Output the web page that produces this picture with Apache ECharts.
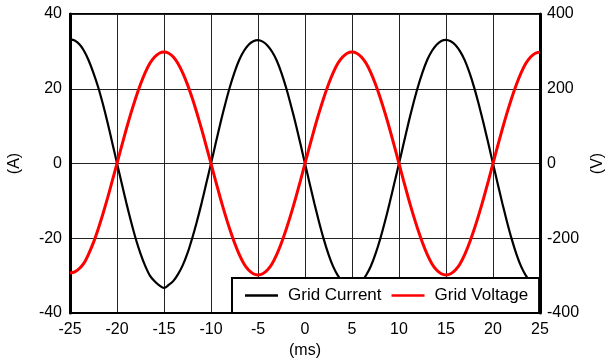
<!DOCTYPE html>
<html>
<head>
<meta charset="utf-8">
<script src="https://cdn.jsdelivr.net/npm/echarts@6/dist/echarts.min.js"></script>
<style>html,body{margin:0;padding:0;background:#fff;}#c{width:613px;height:358px;}</style>
</head>
<body>
<div id="c"></div>
<script>
var timeMs = [-25,-24.5,-24,-23.5,-23,-22.5,-22,-21.5,-21,-20.5,-20,-19.5,-19,-18.5,-18,-17.5,-17,-16.5,-16,-15.5,-15,-14.5,-14,-13.5,-13,-12.5,-12,-11.5,-11,-10.5,-10,-9.5,-9,-8.5,-8,-7.5,-7,-6.5,-6,-5.5,-5,-4.5,-4,-3.5,-3,-2.5,-2,-1.5,-1,-0.5,0,0.5,1,1.5,2,2.5,3,3.5,4,4.5,5,5.5,6,6.5,7,7.5,8,8.5,9,9.5,10,10.5,11,11.5,12,12.5,13,13.5,14,14.5,15,15.5,16,16.5,17,17.5,18,18.5,19,19.5,20,20.5,21,21.5,22,22.5,23,23.5,24,24.5,25];
var gridCurrent = [33.2,32.9,31.9,30.1,27.5,24.2,20.4,15.9,10.9,5.5,0.1,-5.3,-10.6,-15.6,-20.2,-24.1,-27.4,-30.0,-31.5,-32.6,-33.3,-32.5,-31.4,-29.6,-27.2,-24.0,-20.0,-15.5,-10.6,-5.3,0.0,5.4,10.8,15.8,20.4,24.4,27.7,30.1,31.8,32.7,33.0,32.6,31.6,29.9,27.5,24.2,20.2,15.6,10.7,5.4,0.0,-5.4,-10.7,-15.7,-20.3,-24.3,-27.6,-30.0,-31.7,-32.7,-33.1,-32.6,-31.6,-29.9,-27.5,-24.2,-20.2,-15.6,-10.6,-5.3,0.0,5.4,10.8,15.8,20.4,24.4,27.7,30.1,31.8,32.8,33.1,32.7,31.7,30.0,27.6,24.3,20.3,15.7,10.7,5.4,0.0,-5.4,-10.7,-15.7,-20.3,-24.3,-27.6,-30.0,-31.7,-32.7,-33.0];
var gridVoltage = [-293,-290,-281,-266,-241,-211,-175,-135,-92,-46,0,47,93,136,176,212,243,268,285,295,298,295,285,267,242,211,175,135,92,46,0,-47,-93,-136,-176,-212,-243,-268,-285,-295,-298,-295,-285,-268,-243,-212,-176,-136,-93,-47,0,47,93,136,176,212,243,268,285,295,298,295,285,268,243,212,176,136,93,47,0,-47,-93,-136,-176,-212,-243,-268,-285,-295,-298,-295,-285,-268,-243,-212,-176,-136,-93,-47,0,47,93,136,176,212,243,268,285,295,298];
var seriesNames = ['Grid Current', 'Grid Voltage'];
var xName = '(ms)', leftName = '(A)', rightName = '(V)';

function pairs(xs, ys){ return xs.map(function(x,i){ return [x, ys[i]]; }); }

var font = 'Liberation Sans, Arial, sans-serif';
var chart = echarts.init(document.getElementById('c'), null, {renderer:'canvas'});
chart.setOption({
  animation: false,
  backgroundColor: '#fff',
  grid: {left: 70, right: 73, top: 14, bottom: 45, show: true, borderColor: '#000', borderWidth: 2, backgroundColor: 'transparent', outerBoundsMode: 'none', containLabel: false},
  legend: {
    left: 232, top: 278,
    data: seriesNames.map(function(n){ return {name: n, icon: 'rect'}; }),
    padding: [9, 11, 9, 13],
    itemGap: 10,
    itemWidth: 33, itemHeight: 2.5,
    backgroundColor: '#fff', borderColor: '#000', borderWidth: 2, borderRadius: 0,
    textStyle: {fontFamily: font, fontSize: 17, color: '#000', padding: [0,0,0,5]}
  },
  xAxis: {
    type: 'value', min: -25, max: 25, interval: 5,
    name: xName, nameLocation: 'middle', nameGap: 29,
    nameTextStyle: {fontFamily: font, fontSize: 16, color: '#000'},
    axisLine: {show: true, onZero: false, lineStyle: {color: '#000', width: 2}},
    axisTick: {show: false},
    axisLabel: {fontFamily: font, fontSize: 16, color: '#000', margin: 9},
    splitLine: {show: true, lineStyle: {color: '#222', width: 1}}
  },
  yAxis: [{
    type: 'value', min: -40, max: 40, interval: 20,
    name: leftName, nameLocation: 'middle', nameGap: 47, nameRotate: 90,
    nameTextStyle: {fontFamily: font, fontSize: 16, color: '#000'},
    axisLine: {show: true, onZero: false, lineStyle: {color: '#000', width: 3}},
    axisTick: {show: false},
    axisLabel: {fontFamily: font, fontSize: 16, color: '#000', margin: 8},
    splitLine: {show: true, lineStyle: {color: '#222', width: 1}}
  }, {
    type: 'value', min: -400, max: 400, interval: 200, position: 'right',
    name: rightName, nameLocation: 'middle', nameGap: 50, nameRotate: 90,
    nameTextStyle: {fontFamily: font, fontSize: 16, color: '#000'},
    axisLine: {show: true, onZero: false, lineStyle: {color: '#000', width: 3}},
    axisTick: {show: false},
    axisLabel: {fontFamily: font, fontSize: 16, color: '#000', margin: 7},
    splitLine: {show: false}
  }],
  series: [{
    name: seriesNames[0], type: 'line', yAxisIndex: 0, symbol: 'none', smooth: 0.3,
    lineStyle: {color: '#000', width: 2.2}, itemStyle: {color: '#000'},
    data: pairs(timeMs, gridCurrent)
  }, {
    name: seriesNames[1], type: 'line', yAxisIndex: 1, symbol: 'none', smooth: 0.3,
    lineStyle: {color: '#ff0000', width: 3}, itemStyle: {color: '#ff0000'},
    data: pairs(timeMs, gridVoltage)
  }]
});
</script>
</body>
</html>
